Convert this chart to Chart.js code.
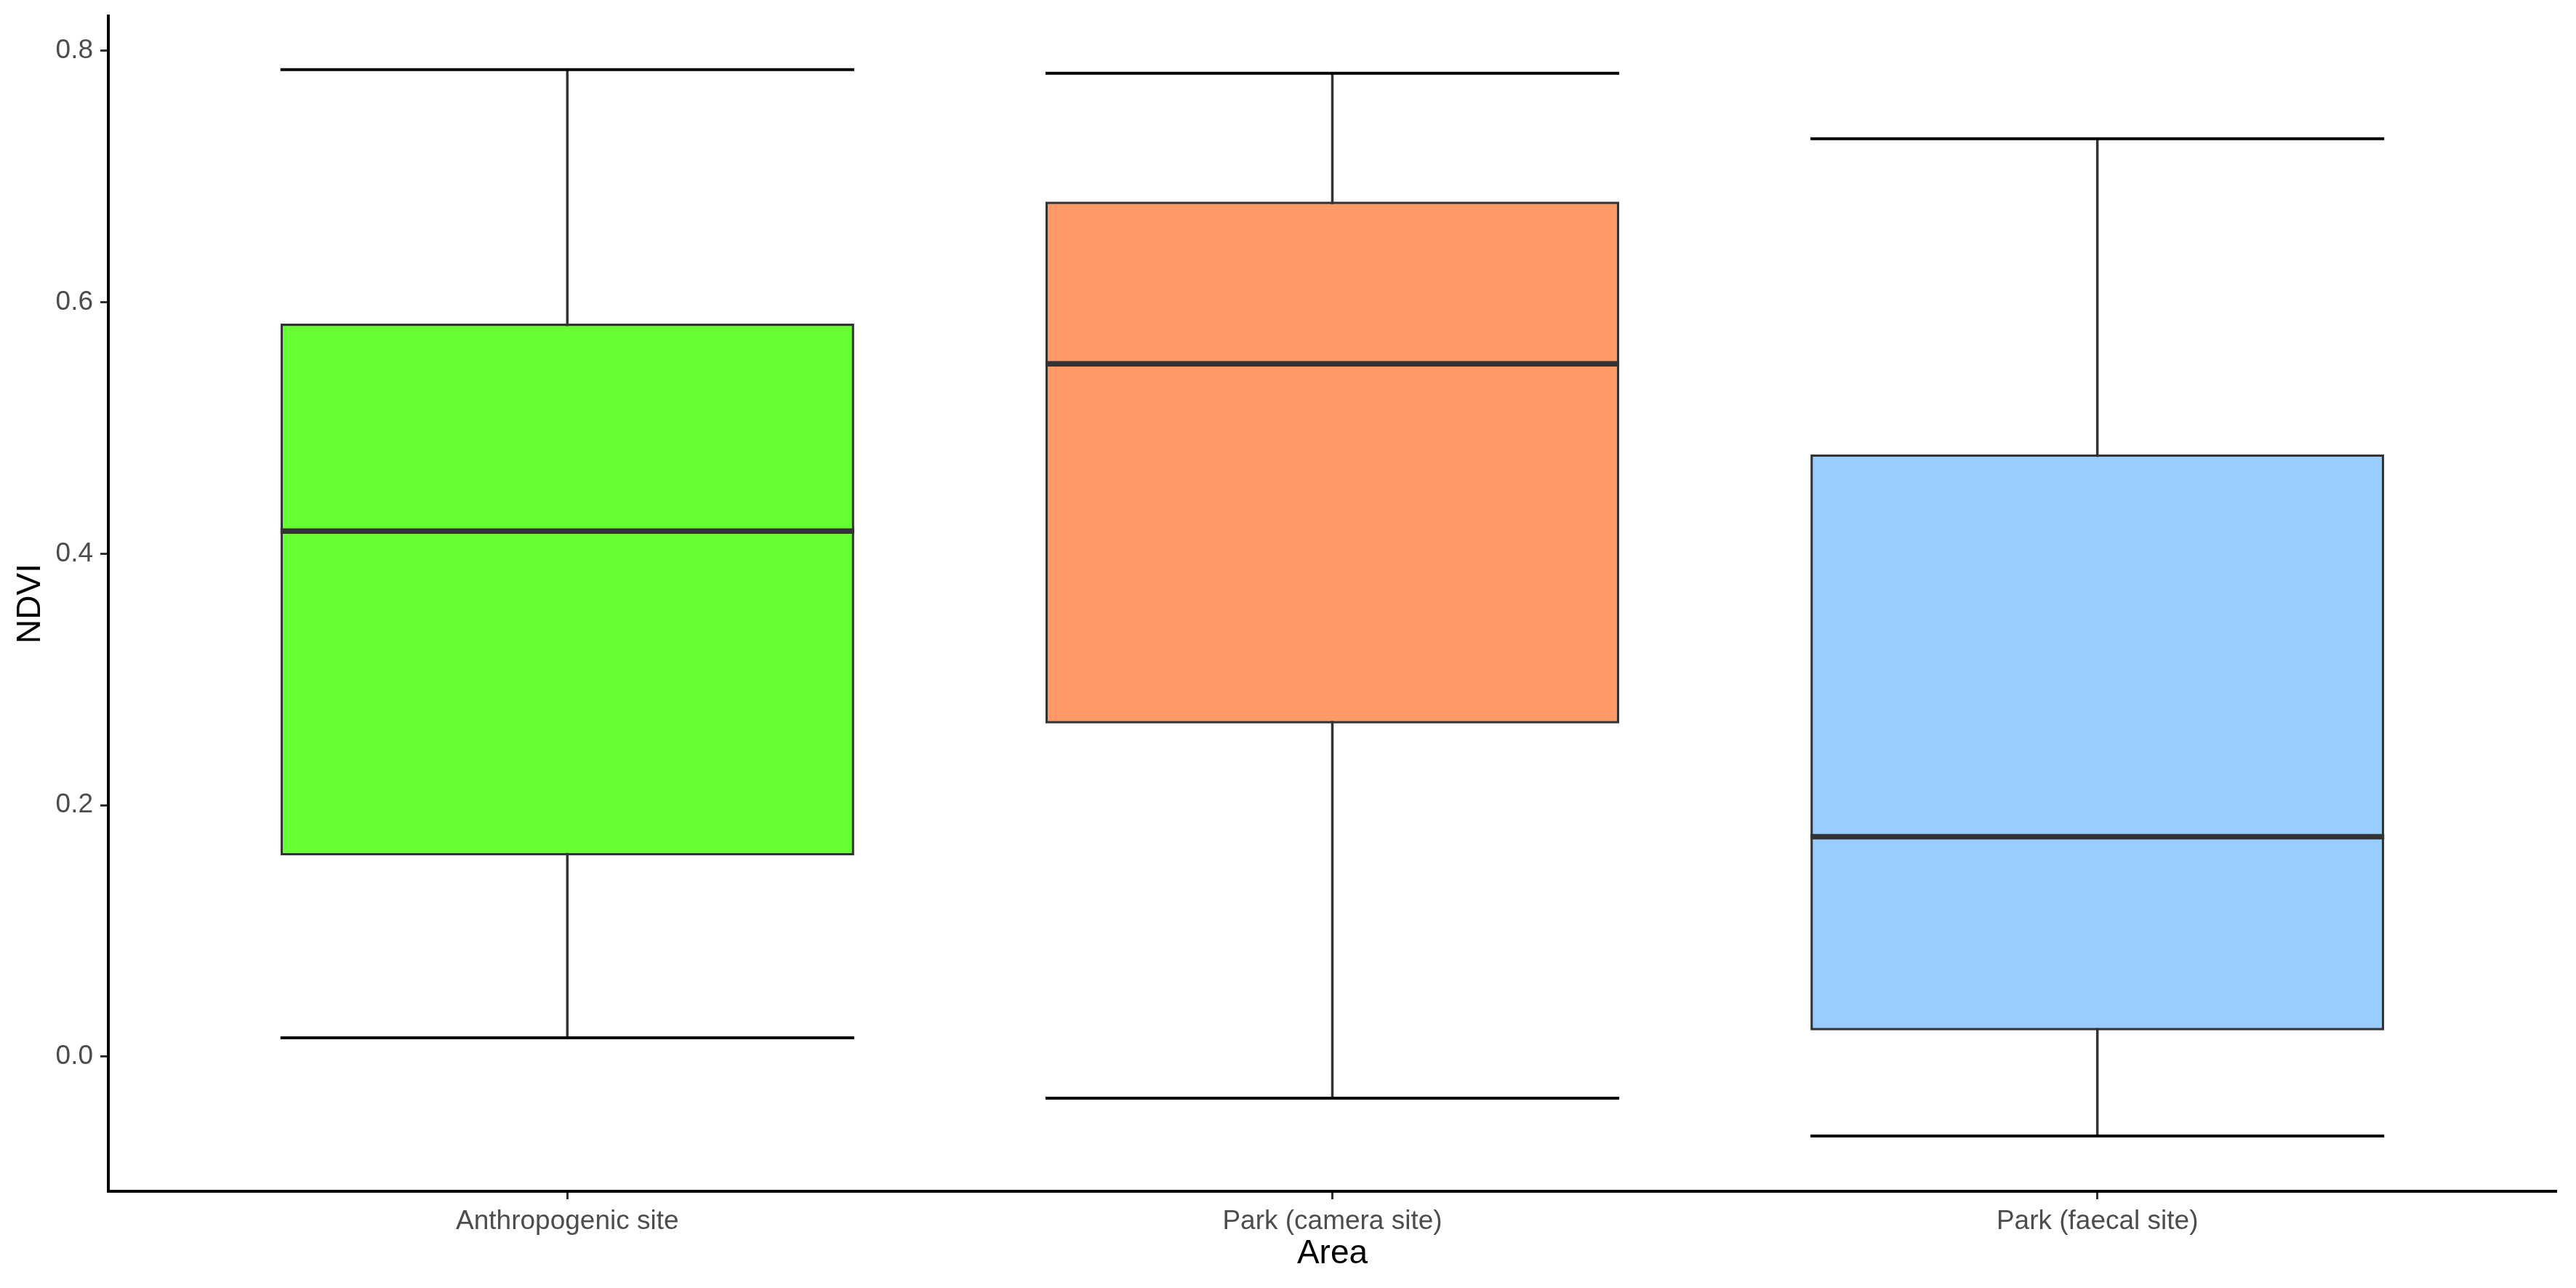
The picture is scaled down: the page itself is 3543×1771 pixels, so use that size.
<!DOCTYPE html>
<html>
<head>
<meta charset="utf-8">
<title>NDVI by area</title>
<script src="https://cdn.jsdelivr.net/npm/chart.js@4.4.1/dist/chart.umd.min.js"></script>
<style>
  html, body { margin: 0; padding: 0; background: #ffffff; }
  canvas { display: block; }
</style>
</head>
<body>
<canvas id="canvas" width="3543" height="1771"></canvas>
<script>
  //data
  var categories = ['Anthropogenic site', 'Park (camera site)', 'Park (faecal site)'];
  var whiskerLow = [0.015, -0.033, -0.063];
  var q1 = [0.160, 0.265, 0.021];
  var median = [0.418, 0.551, 0.175];
  var q3 = [0.583, 0.680, 0.479];
  var whiskerHigh = [0.785, 0.782, 0.730];
  var boxColors = ['#66FF33', '#FF9966', '#99CCFF'];
  var yTicks = [0, 0.2, 0.4, 0.6, 0.8];

  var fontFamily = '"Liberation Sans", Arial, sans-serif';

  //whiskers + caps under the boxes, median line on top
  var boxLines = {
    id: 'boxLines',
    beforeDatasetsDraw: function(chart)
    {
      var ctx = chart.ctx;
      var xs = chart.scales.x;
      var ys = chart.scales.y;
      var bars = chart.getDatasetMeta(0).data;
      ctx.save();
      for (var i = 0; i < categories.length; i++)
      {
        var cx = xs.getPixelForValue(i);
        var half = bars[i].width / 2;
        ctx.strokeStyle = '#333333';
        ctx.lineWidth = 3.5;
        ctx.beginPath();
        ctx.moveTo(cx, ys.getPixelForValue(whiskerLow[i]));
        ctx.lineTo(cx, ys.getPixelForValue(whiskerHigh[i]));
        ctx.stroke();

        ctx.strokeStyle = '#000000';
        ctx.lineWidth = 4;
        ctx.beginPath();
        ctx.moveTo(cx - half, ys.getPixelForValue(whiskerHigh[i]));
        ctx.lineTo(cx + half, ys.getPixelForValue(whiskerHigh[i]));
        ctx.moveTo(cx - half, ys.getPixelForValue(whiskerLow[i]));
        ctx.lineTo(cx + half, ys.getPixelForValue(whiskerLow[i]));
        ctx.stroke();
      }
      ctx.restore();
    },
    afterDatasetsDraw: function(chart)
    {
      var ctx = chart.ctx;
      var xs = chart.scales.x;
      var ys = chart.scales.y;
      var bars = chart.getDatasetMeta(0).data;
      ctx.save();
      ctx.strokeStyle = '#333333';
      ctx.lineWidth = 7.5;
      for (var i = 0; i < categories.length; i++)
      {
        var cx = xs.getPixelForValue(i);
        var half = bars[i].width / 2;
        var my = ys.getPixelForValue(median[i]);
        ctx.beginPath();
        ctx.moveTo(cx - half, my);
        ctx.lineTo(cx + half, my);
        ctx.stroke();
      }
      ctx.restore();
    }
  };

  function createBoxplot()
  {
    var boxData = [];
    for (var i = 0; i < categories.length; i++)
    {
      boxData.push({ x: i, y: [q1[i], q3[i]] });
    }

    var ctx = document.getElementById('canvas').getContext('2d');
    window.myBox = new Chart(ctx, {
      type: 'bar',
      data: {
        datasets: [
          {
            label: 'NDVI',
            data: boxData,
            backgroundColor: boxColors,
            borderColor: '#333333',
            borderWidth: 3.5,
            borderSkipped: false,
            categoryPercentage: 0.75,
            barPercentage: 1.0
          }
        ]
      },
      plugins: [boxLines],
      options: {
        responsive: false,
        animation: false,
        devicePixelRatio: 1,
        layout: {
          padding: { top: 22, right: 27, left: 0, bottom: 0 }
        },
        plugins: {
          legend: { display: false },
          tooltip: { enabled: false }
        },
        scales: {
          x: {
            type: 'linear',
            min: -0.6,
            max: 2.6,
            offset: false,
            afterBuildTicks: function(axis) {
              axis.ticks = categories.map(function(c, i) { return { value: i }; });
            },
            afterFit: function(axis) {
              axis.height = 133;
              axis.paddingLeft = 0;
              axis.paddingRight = 0;
            },
            ticks: {
              color: '#4D4D4D',
              padding: 9,
              font: { family: fontFamily, size: 37 },
              maxRotation: 0,
              autoSkip: false,
              callback: function(value) { return categories[value]; }
            },
            grid: {
              offset: false,
              drawOnChartArea: false,
              drawTicks: true,
              tickLength: 11,
              tickWidth: 3,
              tickColor: '#333333'
            },
            border: { display: true, color: '#000000', width: 4 },
            title: {
              display: true,
              text: 'Area',
              color: '#000000',
              padding: 19,
              font: { family: fontFamily, size: 46 }
            }
          },
          y: {
            type: 'linear',
            min: -0.107,
            max: 0.8276,
            afterBuildTicks: function(axis) {
              axis.ticks = yTicks.map(function(v) { return { value: v }; });
            },
            afterFit: function(axis) {
              axis.width = 149;
              axis.paddingTop = 0;
              axis.paddingBottom = 0;
            },
            ticks: {
              color: '#4D4D4D',
              padding: 10,
              font: { family: fontFamily, size: 37 },
              callback: function(value) { return value.toFixed(1); }
            },
            grid: {
              drawOnChartArea: false,
              drawTicks: true,
              tickLength: 11,
              tickWidth: 3,
              tickColor: '#333333'
            },
            border: { display: true, color: '#000000', width: 4 },
            title: {
              display: true,
              text: 'NDVI',
              color: '#000000',
              padding: 15,
              font: { family: fontFamily, size: 46 }
            }
          }
        }
      }
    });
  }

  createBoxplot();
</script>
</body>
</html>
